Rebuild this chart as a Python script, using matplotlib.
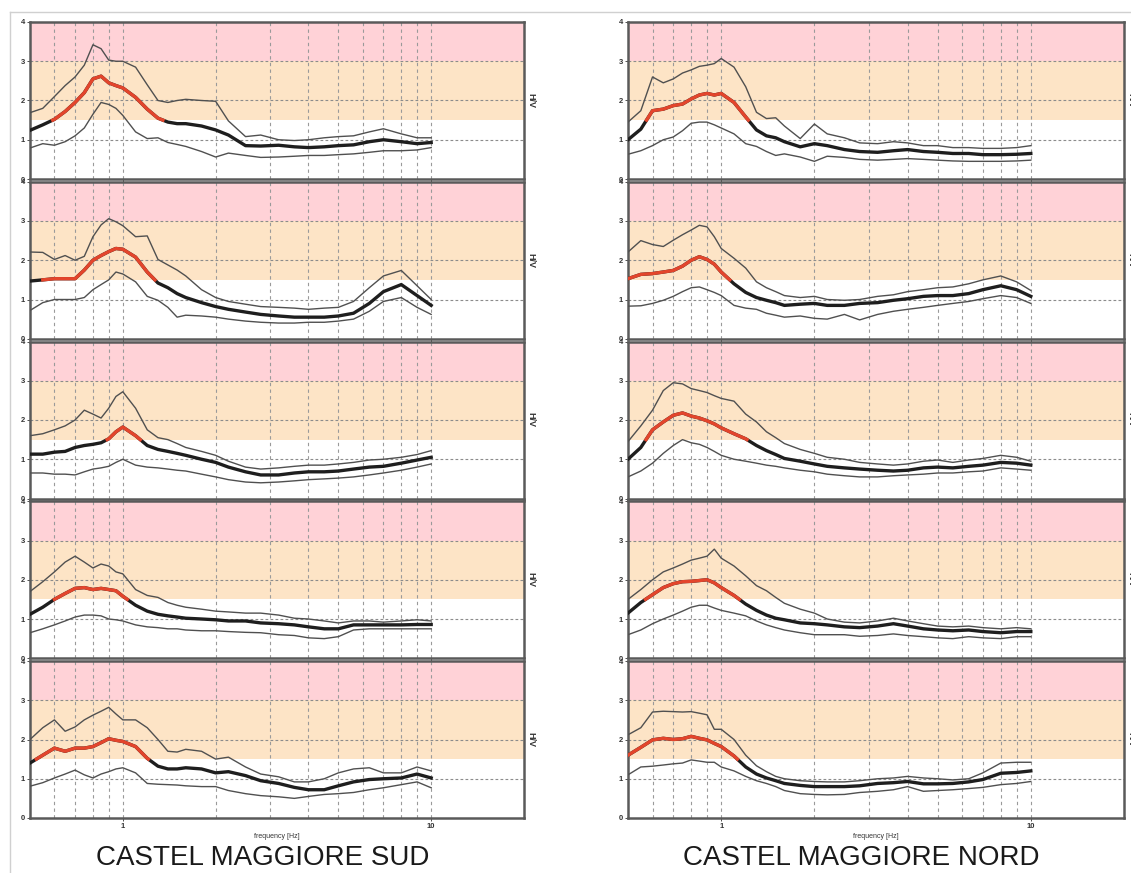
import numpy as np
import matplotlib
matplotlib.use("Agg")
import matplotlib.pyplot as plt
from matplotlib.lines import Line2D
from matplotlib.ticker import NullLocator

plt.rcParams['font.family'] = ['Liberation Sans', 'DejaVu Sans']

# frequency samples [Hz]
freq = [0.5, 0.55, 0.6, 0.65, 0.7, 0.75, 0.8, 0.85, 0.9, 0.95, 1.0, 1.1, 1.2, 1.3, 1.4,
        1.5, 1.6, 1.8, 2.0, 2.2, 2.5, 2.8, 3.2, 3.6, 4.0, 4.5, 5.0, 5.6, 6.3, 7.0, 8.0, 9.0, 10.0]

# ---- CASTEL MAGGIORE SUD (top to bottom): mean H/V, upper and lower curves
sud1_hv = [1.24, 1.38, 1.52, 1.72, 1.95, 2.2, 2.55, 2.62, 2.45, 2.38, 2.32, 2.08, 1.78, 1.55, 1.45,
           1.41, 1.41, 1.35, 1.25, 1.12, 0.85, 0.84, 0.86, 0.82, 0.8, 0.82, 0.85, 0.87, 0.95, 1.0, 0.95, 0.9, 0.93]
sud1_hi = [1.69, 1.8, 2.1, 2.38, 2.6, 2.9, 3.42, 3.32, 3.03, 3.0, 3.0, 2.85, 2.4, 2.0, 1.95,
           2.0, 2.03, 2.0, 1.98, 1.48, 1.08, 1.12, 1.0, 0.98, 1.0, 1.05, 1.08, 1.1, 1.2, 1.28, 1.15, 1.05, 1.05]
sud1_lo = [0.79, 0.9, 0.86, 0.95, 1.1, 1.3, 1.65, 1.95, 1.9, 1.8, 1.62, 1.2, 1.03, 1.05, 0.93,
           0.88, 0.83, 0.7, 0.56, 0.66, 0.6, 0.55, 0.56, 0.58, 0.6, 0.6, 0.62, 0.64, 0.68, 0.72, 0.72, 0.74, 0.8]

sud2_hv = [1.47, 1.5, 1.53, 1.53, 1.53, 1.75, 2.0, 2.12, 2.22, 2.3, 2.28, 2.08, 1.7, 1.42, 1.3,
           1.15, 1.05, 0.92, 0.82, 0.75, 0.68, 0.62, 0.58, 0.55, 0.55, 0.55, 0.58, 0.65, 0.9, 1.2, 1.38, 1.1, 0.85]
sud2_hi = [2.21, 2.2, 2.02, 2.12, 2.0, 2.1, 2.6, 2.9, 3.06, 2.98, 2.88, 2.6, 2.62, 2.02, 1.88,
           1.75, 1.6, 1.25, 1.05, 0.95, 0.88, 0.82, 0.8, 0.78, 0.75, 0.78, 0.8, 0.95, 1.3, 1.6, 1.74, 1.35, 1.0]
sud2_lo = [0.72, 0.92, 1.0, 1.0, 1.0, 1.05, 1.25, 1.38, 1.5, 1.7, 1.65, 1.45, 1.08, 0.98, 0.8,
           0.55, 0.6, 0.58, 0.55, 0.5, 0.45, 0.42, 0.4, 0.4, 0.42, 0.42, 0.45, 0.5, 0.7, 0.95, 1.05, 0.8, 0.62]

sud3_hv = [1.13, 1.13, 1.18, 1.2, 1.3, 1.35, 1.38, 1.42, 1.52, 1.7, 1.82, 1.6, 1.35, 1.25, 1.2,
           1.15, 1.1, 1.0, 0.92, 0.8, 0.68, 0.6, 0.6, 0.65, 0.68, 0.68, 0.7, 0.75, 0.8, 0.82, 0.9, 0.98, 1.05]
sud3_hi = [1.6, 1.65, 1.75, 1.85, 2.0, 2.25, 2.15, 2.05, 2.3, 2.6, 2.72, 2.3, 1.75, 1.55, 1.5,
           1.4, 1.3, 1.2, 1.1, 0.95, 0.8, 0.75, 0.78, 0.82, 0.85, 0.85, 0.88, 0.92, 0.98, 1.0, 1.05, 1.12, 1.22]
sud3_lo = [0.65, 0.65, 0.62, 0.62, 0.6, 0.68, 0.75, 0.78, 0.82, 0.92, 1.0, 0.85, 0.8, 0.78, 0.75,
           0.72, 0.7, 0.62, 0.55, 0.48, 0.42, 0.4, 0.42, 0.45, 0.48, 0.5, 0.52, 0.55, 0.6, 0.65, 0.72, 0.8, 0.88]

sud4_hv = [1.12, 1.3, 1.5, 1.65, 1.78, 1.8, 1.75, 1.78, 1.75, 1.72, 1.58, 1.35, 1.2, 1.12, 1.08,
           1.05, 1.02, 1.0, 0.98, 0.95, 0.95, 0.9, 0.88, 0.85, 0.8, 0.75, 0.75, 0.85, 0.85, 0.85, 0.85, 0.86, 0.86]
sud4_hi = [1.7, 1.95, 2.2, 2.45, 2.6, 2.45, 2.3, 2.4, 2.35, 2.2, 2.15, 1.75, 1.6, 1.55, 1.42,
           1.35, 1.3, 1.25, 1.2, 1.18, 1.15, 1.15, 1.1, 1.02, 1.0, 0.95, 0.9, 0.95, 0.95, 0.92, 0.95, 0.98, 0.95]
sud4_lo = [0.65, 0.75, 0.85, 0.95, 1.05, 1.1, 1.1, 1.08, 1.0, 0.98, 0.95, 0.85, 0.8, 0.78, 0.75,
           0.75, 0.72, 0.7, 0.7, 0.68, 0.66, 0.65, 0.6, 0.58, 0.52, 0.5, 0.55, 0.72, 0.75, 0.75, 0.75, 0.75, 0.75]

sud5_hv = [1.4, 1.6, 1.78, 1.7, 1.78, 1.78, 1.82, 1.92, 2.02, 1.98, 1.95, 1.82, 1.52, 1.32, 1.25,
           1.25, 1.28, 1.25, 1.15, 1.18, 1.08, 0.95, 0.88, 0.78, 0.72, 0.72, 0.82, 0.92, 0.98, 1.0, 1.02, 1.12, 1.02]
sud5_hi = [2.0, 2.3, 2.5, 2.21, 2.32, 2.5, 2.62, 2.72, 2.82, 2.65, 2.5, 2.5, 2.3, 2.0, 1.7,
           1.68, 1.75, 1.7, 1.5, 1.55, 1.3, 1.12, 1.05, 0.92, 0.92, 1.0, 1.15, 1.25, 1.28, 1.15, 1.15, 1.3, 1.2]
sud5_lo = [0.81, 0.9, 1.02, 1.12, 1.22, 1.1, 1.02, 1.12, 1.18, 1.25, 1.28, 1.15, 0.88, 0.86, 0.85,
           0.84, 0.82, 0.8, 0.8, 0.7, 0.62, 0.57, 0.54, 0.5, 0.55, 0.6, 0.62, 0.65, 0.72, 0.77, 0.85, 0.92, 0.77]

# ---- CASTEL MAGGIORE NORD (top to bottom)
nord1_hv = [1.0, 1.27, 1.74, 1.78, 1.87, 1.91, 2.04, 2.14, 2.18, 2.14, 2.18, 1.95, 1.58, 1.25, 1.1,
            1.05, 0.95, 0.82, 0.9, 0.85, 0.75, 0.7, 0.68, 0.72, 0.75, 0.7, 0.68, 0.65, 0.65, 0.62, 0.62, 0.63, 0.65]
nord1_hi = [1.45, 1.74, 2.6, 2.45, 2.55, 2.7, 2.78, 2.87, 2.9, 2.94, 3.07, 2.85, 2.35, 1.7, 1.54,
            1.56, 1.35, 1.03, 1.4, 1.15, 1.05, 0.92, 0.9, 0.95, 0.92, 0.85, 0.85, 0.8, 0.8, 0.78, 0.78, 0.8, 0.85]
nord1_lo = [0.63, 0.72, 0.85, 1.0, 1.07, 1.23, 1.42, 1.45, 1.45, 1.38, 1.3, 1.15, 0.9, 0.83, 0.7,
            0.6, 0.64, 0.56, 0.45, 0.58, 0.55, 0.5, 0.48, 0.5, 0.52, 0.5, 0.48, 0.46, 0.45, 0.45, 0.45, 0.46, 0.48]

nord2_hv = [1.53, 1.64, 1.66, 1.7, 1.74, 1.85, 2.0, 2.09, 2.02, 1.9, 1.7, 1.4, 1.18, 1.05, 0.98,
            0.92, 0.85, 0.88, 0.9, 0.85, 0.85, 0.9, 0.92, 0.98, 1.02, 1.08, 1.1, 1.1, 1.15, 1.25, 1.35, 1.25, 1.08]
nord2_hi = [2.21, 2.5, 2.4, 2.35, 2.51, 2.65, 2.77, 2.89, 2.85, 2.6, 2.3, 2.05, 1.8, 1.45, 1.3,
            1.2, 1.1, 1.05, 1.08, 1.0, 0.98, 1.0, 1.08, 1.12, 1.2, 1.25, 1.3, 1.32, 1.4, 1.5, 1.6, 1.45, 1.23]
nord2_lo = [0.83, 0.84, 0.9, 0.98, 1.08, 1.2, 1.3, 1.32, 1.25, 1.18, 1.1, 0.85, 0.78, 0.75, 0.65,
            0.6, 0.55, 0.58, 0.52, 0.5, 0.62, 0.48, 0.62, 0.7, 0.75, 0.8, 0.85, 0.9, 0.95, 1.02, 1.1, 1.05, 0.9]

nord3_hv = [1.0, 1.3, 1.75, 1.95, 2.12, 2.18, 2.1, 2.05, 1.98, 1.9, 1.8, 1.65, 1.52, 1.35, 1.22,
            1.12, 1.02, 0.95, 0.88, 0.82, 0.78, 0.75, 0.72, 0.7, 0.72, 0.78, 0.8, 0.78, 0.82, 0.85, 0.92, 0.9, 0.85]
nord3_hi = [1.45, 1.85, 2.25, 2.75, 2.95, 2.92, 2.8, 2.75, 2.7, 2.62, 2.55, 2.48, 2.15, 1.95, 1.7,
            1.55, 1.4, 1.25, 1.15, 1.05, 1.0, 0.92, 0.88, 0.85, 0.88, 0.95, 0.98, 0.92, 0.98, 1.02, 1.1, 1.05, 0.95]
nord3_lo = [0.55, 0.7, 0.9, 1.15, 1.35, 1.5, 1.42, 1.38, 1.3, 1.2, 1.1, 1.0, 0.95, 0.9, 0.85,
            0.82, 0.78, 0.72, 0.68, 0.62, 0.58, 0.55, 0.55, 0.58, 0.6, 0.62, 0.65, 0.65, 0.68, 0.7, 0.78, 0.75, 0.72]

nord4_hv = [1.15, 1.42, 1.62, 1.8, 1.9, 1.95, 1.96, 1.98, 2.0, 1.92, 1.8, 1.6, 1.38, 1.22, 1.1,
            1.02, 0.98, 0.9, 0.88, 0.85, 0.8, 0.78, 0.82, 0.88, 0.82, 0.75, 0.72, 0.7, 0.72, 0.68, 0.65, 0.68, 0.68]
nord4_hi = [1.5, 1.75, 2.0, 2.2, 2.3, 2.4, 2.5, 2.55, 2.6, 2.78, 2.55, 2.35, 2.1, 1.85, 1.72,
            1.55, 1.4, 1.25, 1.15, 1.0, 0.92, 0.9, 0.95, 1.02, 0.95, 0.88, 0.82, 0.8, 0.82, 0.78, 0.75, 0.78, 0.75]
nord4_lo = [0.6, 0.72, 0.88, 1.0, 1.1, 1.2, 1.3, 1.35, 1.35, 1.28, 1.22, 1.15, 1.08, 0.95, 0.85,
            0.78, 0.72, 0.65, 0.6, 0.6, 0.6, 0.56, 0.58, 0.62, 0.58, 0.55, 0.52, 0.5, 0.55, 0.52, 0.5, 0.55, 0.55]

nord5_hv = [1.6, 1.8, 1.99, 2.03, 2.0, 2.02, 2.08, 2.03, 1.99, 1.9, 1.82, 1.58, 1.3, 1.12, 1.02,
            0.95, 0.88, 0.83, 0.8, 0.8, 0.8, 0.82, 0.88, 0.9, 0.93, 0.87, 0.87, 0.88, 0.92, 0.98, 1.14, 1.16, 1.2]
nord5_hi = [2.12, 2.3, 2.7, 2.72, 2.71, 2.7, 2.71, 2.67, 2.63, 2.26, 2.26, 2.0, 1.6, 1.33, 1.18,
            1.06, 1.0, 0.95, 0.93, 0.92, 0.92, 0.95, 1.0, 1.02, 1.06, 1.02, 1.0, 0.97, 1.0, 1.15, 1.4, 1.42, 1.42]
nord5_lo = [1.1, 1.3, 1.32, 1.35, 1.38, 1.4, 1.48, 1.45, 1.42, 1.42, 1.3, 1.2, 1.06, 0.95, 0.88,
            0.8, 0.7, 0.62, 0.6, 0.59, 0.6, 0.65, 0.68, 0.72, 0.8, 0.68, 0.7, 0.72, 0.75, 0.78, 0.85, 0.88, 0.93]

sud = [(sud1_hv, sud1_hi, sud1_lo), (sud2_hv, sud2_hi, sud2_lo), (sud3_hv, sud3_hi, sud3_lo),
       (sud4_hv, sud4_hi, sud4_lo), (sud5_hv, sud5_hi, sud5_lo)]
nord = [(nord1_hv, nord1_hi, nord1_lo), (nord2_hv, nord2_hi, nord2_lo), (nord3_hv, nord3_hi, nord3_lo),
        (nord4_hv, nord4_hi, nord4_lo), (nord5_hv, nord5_hi, nord5_lo)]
titles = ['CASTEL MAGGIORE SUD', 'CASTEL MAGGIORE NORD']

grid_f = [0.6, 0.7, 0.8, 0.9, 1, 2, 3, 4, 5, 6, 7, 8, 9, 10]
LEVEL = 1.5
PINK = '#ffd2d7'
ORANGE = '#fde4c6'


def split_at(f, y, level):
    # add the crossing points so the red piece starts/ends right on the level
    lf = np.log10(f)
    xs, ys = [lf[0]], [y[0]]
    for i in range(1, len(f)):
        if (y[i - 1] - level) * (y[i] - level) < 0:
            t = (level - y[i - 1]) / (y[i] - y[i - 1])
            xs.append(lf[i - 1] + t * (lf[i] - lf[i - 1]))
            ys.append(level)
        xs.append(lf[i])
        ys.append(y[i])
    return 10 ** np.array(xs), np.array(ys)


def draw_panel(ax, hv, hi, lo, bottom):
    ax.axhspan(3, 4, color=PINK, lw=0, zorder=0)
    ax.axhspan(1.5, 3, color=ORANGE, lw=0, zorder=0)
    for g in (1, 2, 3):
        ax.axhline(g, color='#8c8c8c', lw=0.8, ls=(0, (2.5, 2)), zorder=1)
    for g in grid_f:
        ax.axvline(g, color='#9a9a9a', lw=0.8, ls=(0, (3, 3)), zorder=1)

    ax.plot(freq, hi, color='#505050', lw=1.0, zorder=3)
    ax.plot(freq, lo, color='#505050', lw=1.0, zorder=3)
    x, y = split_at(freq, hv, LEVEL)
    ax.plot(x, y, color='#1e1e1e', lw=2.4, zorder=4)
    ax.plot(x, np.where(y >= LEVEL, y, np.nan), color='#e3452c', lw=2.4, zorder=5)

    ax.set_xscale('log')
    ax.set_xlim(0.5, 20)
    ax.set_ylim(0, 4)
    ax.set_yticks([0, 1, 2, 3, 4])
    ax.set_xticks([1, 10])
    ax.xaxis.set_minor_locator(NullLocator())
    ax.tick_params(length=2, width=0.6, pad=1.5, labelsize=5.5, colors='#333333')
    for lab in ax.get_yticklabels() + ax.get_xticklabels():
        lab.set_fontweight('bold')
    if bottom:
        ax.set_xticklabels(['1', '10'])
        ax.set_xlabel('frequency [Hz]', fontsize=5, labelpad=2, color='#333333')
    else:
        ax.set_xticklabels([])
    ax.yaxis.set_label_position('right')
    ax.set_ylabel('H/V', rotation=-90, fontsize=6.5, fontweight='bold', color='#333333',
                  ha='center', va='center')
    ax.yaxis.set_label_coords(1.013, 0.5)
    for s in ax.spines.values():
        s.set_color('#5a5a5a')
        s.set_linewidth(1.8)


W, H = 1131, 873
fig = plt.figure(figsize=(W / 100, H / 100), dpi=100)
fig.patch.set_facecolor('white')

cols = [(30, 524), (628, 1124)]
tops = [22 + i * 159.75 for i in range(5)]
ph = 157

for c, (data, (x0, x1)) in enumerate(zip([sud, nord], cols)):
    for r, (hv, hi, lo) in enumerate(data):
        ax = fig.add_axes([x0 / W, 1 - (tops[r] + ph) / H, (x1 - x0) / W, ph / H])
        draw_panel(ax, hv, hi, lo, r == 4)
    fig.text((x0 + x1) / 2 / W - 0.013, 1 - 858 / H, titles[c], ha='center', va='center',
             fontsize=20, color='#1a1a1a')

# thin page border of the original scan
fig.add_artist(Line2D([10 / W, 1], [1 - 12 / H, 1 - 12 / H], color='#d0d0d0', lw=1,
                      transform=fig.transFigure))
fig.add_artist(Line2D([10 / W, 10 / W], [0, 1 - 12 / H], color='#d0d0d0', lw=1,
                      transform=fig.transFigure))

fig.savefig('out.png', dpi=100, facecolor='white')
